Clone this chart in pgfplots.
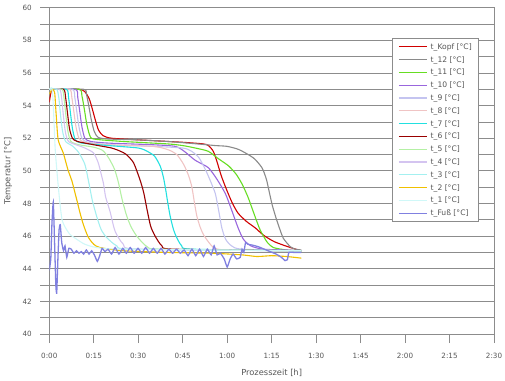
\documentclass[border=0pt]{standalone}
\usepackage{fontspec}
\setmainfont{DejaVu Sans}
\usepackage{pgfplots}
\pgfplotsset{compat=1.18}
\definecolor{gridc}{HTML}{8C8C8C}
\definecolor{tickc}{HTML}{555555}
\definecolor{cKopf}{HTML}{D00000}
\definecolor{cZwoelf}{HTML}{8A8A8A}
\definecolor{cElf}{HTML}{66DD22}
\definecolor{cZehn}{HTML}{9966DD}
\definecolor{cNeun}{HTML}{C4C4F0}
\definecolor{cAcht}{HTML}{F0C4C4}
\definecolor{cSieben}{HTML}{22E0E0}
\definecolor{cSechs}{HTML}{990000}
\definecolor{cFuenf}{HTML}{B4F0A4}
\definecolor{cVier}{HTML}{D4C4F0}
\definecolor{cDrei}{HTML}{A4F0F0}
\definecolor{cZwei}{HTML}{F0C000}
\definecolor{cEins}{HTML}{D0F8F8}
\definecolor{cFuss}{HTML}{8080E0}
\begin{document}
\begin{tikzpicture}
\begin{axis}[name=ax, scale only axis, width=444.7pt, height=326.3pt,
  xmin=0, xmax=150, ymin=40, ymax=60,
  xtick={0,15,...,150},
  xticklabels={0:00,0:15,0:30,0:45,1:00,1:15,1:30,1:45,2:00,2:15,2:30},
  ytick={40,42,...,60}, minor ytick={41,43,...,59},
  ymajorgrids, yminorgrids,
  major grid style={gridc, line width=0.8pt},
  minor grid style={gridc, line width=0.8pt},
  axis line style={gridc, line width=0.8pt},
  tick align=outside, major tick length=9pt, minor tick length=9pt,
  every tick/.style={gridc, line width=0.8pt},
  xtick pos=bottom, ytick pos=left,
  ticklabel style={font=\fontsize{7.2}{8}\selectfont, text=tickc},
  xticklabel style={yshift=-7pt},
  yticklabel style={xshift=-5pt},
  /pgf/number format/assume math mode=true,
  xlabel={Prozesszeit [h]}, ylabel={Temperatur [°C]},
  label style={font=\fontsize{8.3}{10}\selectfont, text=tickc},
  xlabel style={at={(axis description cs:0.5,-0.1186)}, anchor=center},
  ylabel style={at={(axis description cs:-0.0929,0.5)}, anchor=center},
  legend style={at={(axis description cs:0.7706,0.9071)}, anchor=north west,
    draw=gridc, fill=white, font=\fontsize{7.6}{9}\selectfont, text=tickc,
    inner xsep=6pt, inner ysep=4pt, row sep=3.8pt,
    nodes={inner sep=0pt, text height=7pt, text depth=2pt},
    cells={anchor=west}},
  legend image code/.code={\draw[#1, line width=1.2pt] (0pt,0pt) -- (28pt,0pt); \path (31.3pt,0pt);},
  every axis plot/.append style={line width=1.1pt, smooth, tension=0.4, mark=none},
]
\addplot[cKopf] coordinates {(0,54.2)(0.7,54.9)(2,55)(10,55)(12,54.85)(13.5,54.4)(14.5,53.8)(15.4,53.2)(16.6,52.5)(18.2,52.15)(21,52.0)(30,51.9)(45,51.75)(52,51.65)(53.7,51.55)(55.3,51.2)(56.5,50.6)(58,49.7)(59.9,48.8)(61.8,48.0)(63.7,47.4)(66.5,46.9)(69.5,46.5)(72.3,46.05)(76,45.65)(81.3,45.3)(85,45.1)};
\addlegendentry{t\_Kopf [°C]}
\addplot[cZwoelf] coordinates {(0,55)(11.5,55)(12.5,54.7)(13.3,54.0)(14.2,53.1)(15.2,52.4)(16.5,52.05)(20,51.95)(30,51.9)(40,51.8)(50,51.65)(56,51.55)(60,51.5)(64,51.3)(68.8,50.8)(71.7,50.2)(73.2,49.5)(74.2,48.7)(75.2,47.9)(76.5,47.1)(77.8,46.4)(79,45.85)(81.3,45.35)(83,45.2)(85,45.15)};
\addlegendentry{t\_12 [°C]}
\addplot[cElf] coordinates {(0,55)(10,55)(11,54.6)(11.8,53.8)(12.6,52.9)(13.6,52.2)(15,51.95)(25,51.8)(40,51.65)(45,51.55)(49.2,51.4)(53.6,51.2)(57,50.75)(60.5,50.3)(63,49.8)(65,49.2)(67,48.4)(68.6,47.6)(70,46.9)(71.2,46.35)(73.4,45.65)(75.6,45.3)(80,45.15)(85,45.1)};
\addlegendentry{t\_11 [°C]}
\addplot[cZehn] coordinates {(0,55)(8.8,55)(9.6,54.5)(10.3,53.6)(11,52.7)(12,52.0)(14,51.8)(20,51.7)(35,51.6)(42.5,51.5)(45.5,51.2)(49.2,50.65)(53.6,50.2)(56.5,49.5)(59.4,48.6)(61.5,47.6)(63.7,46.5)(65.5,45.8)(68,45.4)(72,45.2)(80,45.15)(85,45.1)};
\addlegendentry{t\_10 [°C]}
\addplot[cNeun] coordinates {(0,55)(7.8,55)(8.6,54.5)(9.3,53.6)(10,52.7)(11,52.0)(13,51.75)(20,51.6)(35,51.5)(45,51.4)(48,51.2)(50.5,50.8)(52.6,50.1)(54.3,49.4)(56,48.6)(57.2,47.5)(58.2,46.5)(59.5,45.8)(61.5,45.4)(65,45.2)(85,45.1)};
\addlegendentry{t\_9 [°C]}
\addplot[cAcht] coordinates {(0,55)(6.8,55)(7.6,54.5)(8.3,53.6)(9,52.7)(10,52.0)(12,51.75)(20,51.6)(35,51.5)(40,51.3)(43,51.0)(45.3,50.4)(47,49.7)(48.1,49.0)(49,48.0)(49.8,47.2)(51,46.5)(52.3,46.0)(55.4,45.3)(60,45.15)(85,45.1)};
\addlegendentry{t\_8 [°C]}
\addplot[cSieben] coordinates {(0,55)(5.8,55)(6.5,54.5)(7.1,53.6)(7.8,52.6)(8.8,51.9)(11,51.7)(20,51.55)(30,51.4)(33,51.2)(35.5,50.9)(37.4,50.3)(38.5,49.6)(39.3,48.8)(40,48.0)(40.8,47.2)(41.9,46.4)(43,45.9)(44.7,45.4)(48,45.2)(85,45.1)};
\addlegendentry{t\_7 [°C]}
\addplot[cSechs] coordinates {(0,55)(4.8,55)(5.5,54.5)(6.1,53.6)(6.8,52.6)(7.8,52.0)(9.5,51.8)(15,51.6)(21,51.4)(24,51.2)(26,51.0)(28.4,50.5)(30.5,49.5)(31.8,48.7)(33,47.6)(34.2,46.6)(35.7,46.0)(38,45.4)(42,45.2)(85,45.1)};
\addlegendentry{t\_6 [°C]}
\addplot[cFuenf] coordinates {(0,55)(4.3,55)(5.0,54.4)(5.6,53.4)(6.3,52.4)(7.3,51.8)(10,51.6)(15,51.45)(18,51.25)(20,50.8)(22,50.1)(23.3,49.3)(24.5,48.3)(26,47.3)(27.5,46.6)(29.5,46.0)(33,45.35)(38,45.2)(85,45.1)};
\addlegendentry{t\_5 [°C]}
\addplot[cVier] coordinates {(0,55)(3.5,55)(4.2,54.4)(4.8,53.3)(5.5,52.3)(6.5,51.8)(9,51.6)(12,51.4)(14.9,51.1)(16.5,50.5)(17.5,49.8)(18.3,49.2)(19,48.4)(20.5,47.5)(22.2,46.3)(25,45.5)(30,45.2)(85,45.1)};
\addlegendentry{t\_4 [°C]}
\addplot[cDrei] coordinates {(0,55)(2.5,55)(3.2,54.5)(3.8,53.4)(4.5,52.4)(5.5,51.8)(8,51.5)(10,51.1)(12,50.4)(13.2,49.4)(14.5,48.2)(16,47.2)(17.5,46.4)(19.4,45.9)(22.8,45.4)(28,45.2)(85,45.1)};
\addlegendentry{t\_3 [°C]}
\addplot[cZwei] coordinates {(0,54.7)(1,55)(1.8,54.8)(2.3,53.5)(3.0,51.9)(4.7,51.1)(6.4,50.0)(7.6,49.4)(9.3,48.2)(10.4,47.4)(11.5,46.7)(13.1,45.95)(15,45.5)(17.1,45.3)(25,45.1)(40,45.0)(55,44.95)(65,44.85)(70,44.75)(75,44.8)(80,44.75)(85,44.65)};
\addlegendentry{t\_2 [°C]}
\addplot[cEins] coordinates {(0,55)(0.8,55.1)(1.2,54.5)(1.6,53)(2.0,51.3)(2.8,49.5)(3.6,48.0)(4.3,47.0)(5.5,46.5)(7,46.1)(9.3,45.8)(12,45.5)(16,45.3)(25,45.2)(85,45.1)};
\addlegendentry{t\_1 [°C]}
\addplot[cFuss, line width=1.3pt, tension=0.25] coordinates {(0,43.9)(0.5,44.6)(0.9,46.8)(1.35,48.1)(1.8,45.5)(2.2,43.0)(2.5,42.5)(2.9,44.6)(3.3,46.4)(3.7,46.7)(4.2,45.6)(4.8,45.1)(5.3,45.4)(5.9,44.7)(6.6,45.25)(7.4,45.2)(8.3,44.95)(9.2,45.1)(10.0,44.95)(10.8,45.05)(11.6,44.9)(12.5,45.15)(13.4,44.9)(14.3,45.1)(15.2,44.85)(16.2,44.45)(17.0,44.8)(17.8,45.25)(18.8,45.05)(19.8,45.2)(21.0,44.9)(22.2,45.3)(23.5,44.9)(24.8,45.25)(26.0,44.95)(27.3,45.3)(28.6,44.95)(29.9,45.25)(31.2,44.95)(32.5,45.3)(33.8,44.95)(35.1,45.25)(36.4,44.95)(37.7,45.25)(39.0,44.9)(40.3,45.2)(41.6,44.95)(42.9,45.2)(44.2,44.95)(45.5,45.15)(46.8,44.8)(48.1,45.2)(49.4,44.8)(50.7,45.2)(52.0,44.75)(53.3,45.2)(54.6,44.85)(55.6,45.4)(56.6,44.85)(57.7,44.95)(59.0,44.6)(60.0,44.1)(61.0,44.6)(62.0,44.9)(63.2,44.6)(64.4,44.7)(65.0,45.2)(65.6,45.0)(66.2,45.6)(67.0,45.5)(68.5,45.45)(70.5,45.35)(72.5,45.2)(74.5,45.05)(76.5,44.9)(78.3,44.7)(79.5,44.5)(80.3,44.55)(80.8,45.0)(82.5,45.0)(85,45.0)};
\addlegendentry{t\_Fuß [°C]}
\end{axis}
\pgfresetboundingbox
\path[use as bounding box] (ax.south west) ++(-49.3pt,-46pt) rectangle ([shift={(11pt,7.7pt)}]ax.north east);
\end{tikzpicture}
\end{document}
